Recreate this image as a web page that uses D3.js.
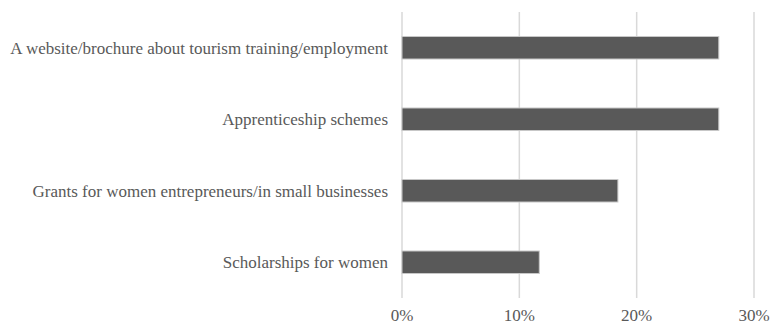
<!DOCTYPE html>
<html>
<head>
<meta charset="utf-8">
<script src="https://cdn.jsdelivr.net/npm/d3@7"></script>
<style>
  body { margin: 0; background: #fff; }
</style>
</head>
<body>
<div id="chart"></div>
<script>
// data
const categories = [
  "A website/brochure about tourism training/employment",
  "Apprenticeship schemes",
  "Grants for women entrepreneurs/in small businesses",
  "Scholarships for women"
];
const values = [0.27, 0.27, 0.184, 0.117];
const tickValues = [0, 0.1, 0.2, 0.3];

const width = 771,
  height = 325,
  margin = { top: 12, right: 17, bottom: 27, left: 402 },
  fontFamily = "Liberation Serif, Times New Roman, Times, serif";

const svg = d3.select("#chart")
  .append("svg")
  .attr("width", width)
  .attr("height", height);

const xScale = d3.scaleLinear()
  .domain([0, 0.3])
  .range([margin.left, width - margin.right]);

const yScale = d3.scaleBand()
  .domain(categories)
  .range([margin.top, height - margin.bottom])
  .paddingInner(0.685)
  .paddingOuter(0.3425);

// gridlines
svg.append("g")
  .selectAll("line")
  .data(tickValues)
  .join("line")
  .attr("x1", d => xScale(d))
  .attr("x2", d => xScale(d))
  .attr("y1", margin.top)
  .attr("y2", height - margin.bottom)
  .attr("stroke", "#d9d9d9")
  .attr("stroke-width", 1.5);

// bars
svg.append("g")
  .selectAll("rect")
  .data(categories)
  .join("rect")
  .attr("x", xScale(0))
  .attr("y", d => yScale(d))
  .attr("width", (d, i) => xScale(values[i]) - xScale(0))
  .attr("height", yScale.bandwidth())
  .attr("fill", "#595959")
  .attr("stroke", "#c8c8c8")
  .attr("stroke-width", 1);

// category labels
svg.append("g")
  .selectAll("text")
  .data(categories)
  .join("text")
  .attr("x", margin.left - 14)
  .attr("y", d => yScale(d) + yScale.bandwidth() / 2)
  .attr("dy", "0.35em")
  .attr("text-anchor", "end")
  .attr("font-family", fontFamily)
  .attr("font-size", 17)
  .attr("fill", "#595959")
  .text(d => d);

// x axis labels
svg.append("g")
  .selectAll("text")
  .data(tickValues)
  .join("text")
  .attr("x", d => xScale(d))
  .attr("y", height - 4)
  .attr("text-anchor", "middle")
  .attr("font-family", fontFamily)
  .attr("font-size", 17)
  .attr("fill", "#595959")
  .text(d => d3.format(".0%")(d));
</script>
</body>
</html>
